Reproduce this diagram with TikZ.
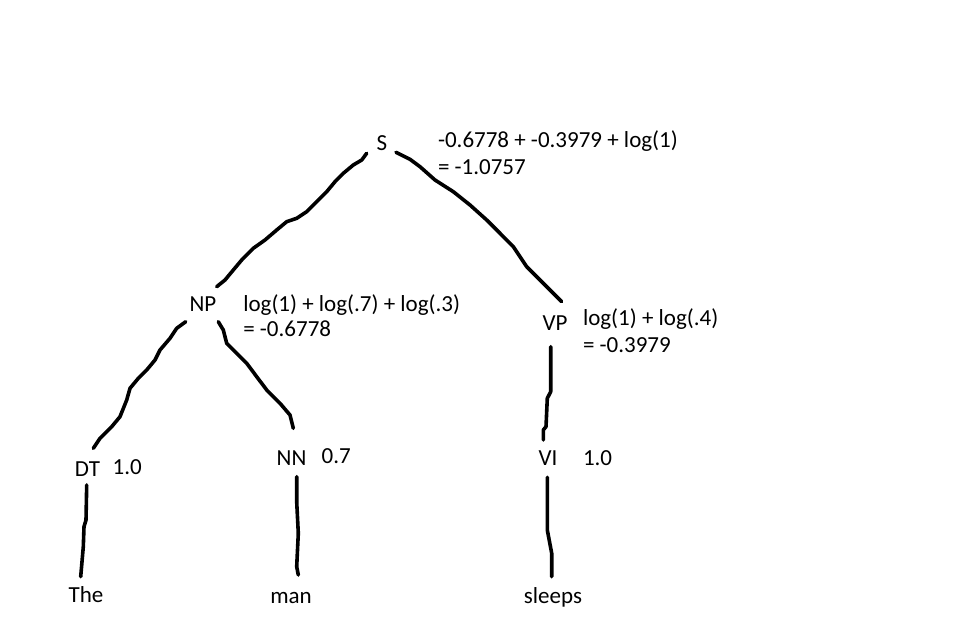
\documentclass[tikz,border=0pt]{standalone}
\usepackage{fontspec}
\setmainfont{Carlito}
\begin{document}
\begin{tikzpicture}[x=1pt,y=-1pt,
  every node/.style={inner sep=0pt,outer sep=0pt,font=\fontsize{23}{26.5}\selectfont},
  cat/.style={anchor=base},
  note/.style={anchor=base west},
  branch/.style={line width=3.6pt,line join=round,line cap=round,black}]
\useasboundingbox[fill=white] (0,0) rectangle (974,636);
% categories
\node[cat] (s)  at (382,151) {S};
\node[cat] (np) at (203,311) {NP};
\node[cat] (vp) at (555,330.7) {VP};
\node[cat] (dt) at (87.5,476.7) {DT};
\node[cat] (nn) at (291.5,465) {NN};
\node[cat] (vi) at (548,465) {VI};
\node[cat] (the) at (86,602.7) {The};
\node[cat] (man) at (291,603) {man};
\node[cat] (sleeps) at (553,603) {sleeps};
% scores
\node[note] (sa) at (438,147.7) {-0.6778 + -0.3979 + log(1)};
\node[note] (sb) at (438,174.3) {= -1.0757};
\node[note] (npa) at (243.3,311) {log(1) + log(.7) + log(.3)};
\node[note] (npb) at (243.3,336.7) {= -0.6778};
\node[note] (vpa) at (583,325) {log(1) + log(.4)};
\node[note] (vpb) at (583,352.7) {= -0.3979};
\node[note] (dts) at (112.7,474.7) {1.0};
\node[note] (nns) at (321.7,463.3) {0.7};
\node[note] (vis) at (583,465) {1.0};
% branches
\draw[branch] ([shift={(-15.3,2.3)}]s.base) -- (361.7,160) -- (353.3,165) -- (343.3,173.3) -- (335,181.7) -- (326.7,191.7) -- (316.7,201.7) -- (306.7,211.7) -- (296.7,218.3) -- (286.7,221.7) -- (276.7,230) -- (265,240) -- (253.3,248.3) -- (241.7,260) -- (233.3,270) -- (225,280) -- ([shift={(13.7,-24.3)}]np.base);
\draw[branch] ([shift={(14,1.3)}]s.base) -- (410,159.3) -- (420,166.7) -- (435,180) -- (453.3,191.7) -- (470,205) -- (486.7,220) -- (500,233.3) -- (513.3,246.7) -- (520,256.7) -- (526.7,266.7) -- (536.7,276.7) -- (546.7,286.7) -- ([shift={(6.7,-29)}]vp.base);
\draw[branch] ([shift={(-17.3,10.7)}]np.base) -- (176.7,328.3) -- (170,338.3) -- (160,350) -- (155,360) -- (146.7,370) -- (138.3,378.3) -- (130,388.3) -- (126.7,400) -- (120,416.7) -- (111.7,426.7) -- (100,438.3) -- ([shift={(5.8,-28.4)}]dt.base);
\draw[branch] ([shift={(15.3,10.7)}]np.base) -- (223.3,330) -- (226.7,343.3) -- (236.7,353.3) -- (246.7,363.3) -- (256.7,376.7) -- (266.7,390) -- (280,403.3) -- (290,415) -- ([shift={(1.8,-36.7)}]nn.base);
\draw[branch] ([shift={(-4.3,16)}]vp.base) -- (550.7,391.7) -- (547.3,398.3) -- (546,426.7) -- (543.3,430) -- ([shift={(-4.7,-25)}]vi.base);
\draw[branch] ([shift={(-0.8,8.3)}]dt.base) -- (86,520) -- (84,526.7) -- (83.3,546.7) -- ([shift={(-5.3,-26)}]the.base);
\draw[branch] ([shift={(5.2,11.7)}]nn.base) -- (296.7,501.7) -- (298.3,533.3) -- (296.7,566.7) -- ([shift={(7.3,-28)}]man.base);
\draw[branch] ([shift={(-0.7,12.3)}]vi.base) -- (547.3,530) -- (551.7,553.3) -- ([shift={(-1.3,-26.3)}]sleeps.base);
\end{tikzpicture}
\end{document}
